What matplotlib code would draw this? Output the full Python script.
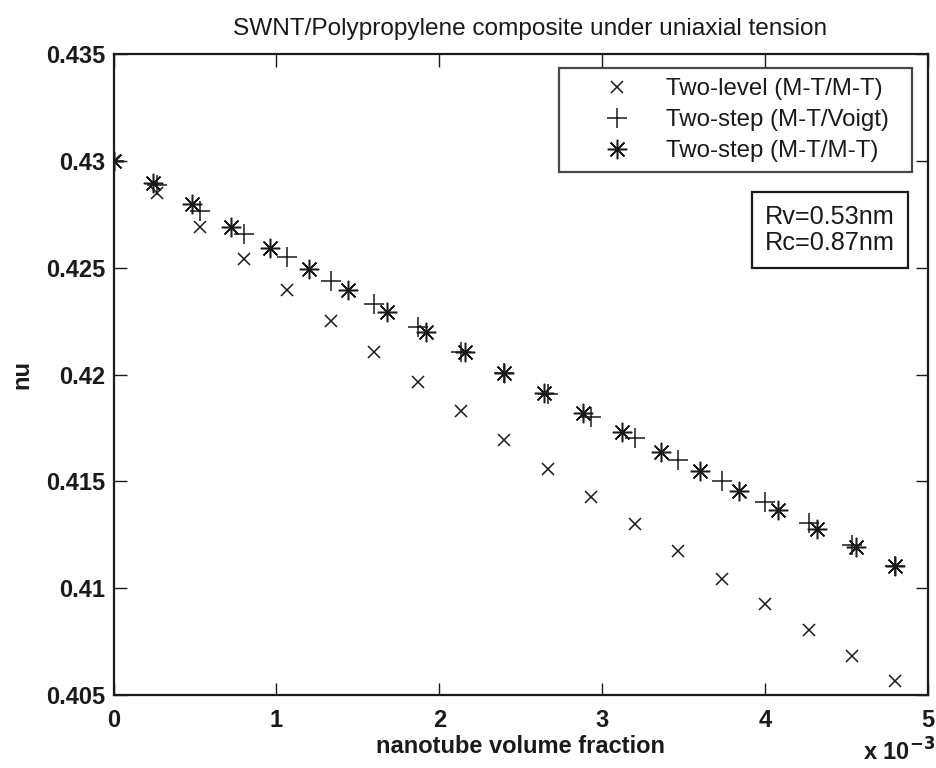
import matplotlib
matplotlib.use("Agg")
import matplotlib.pyplot as plt
from matplotlib.ticker import FuncFormatter

plt.rcParams['font.family'] = ['Liberation Sans', 'DejaVu Sans']

# x values (volume fraction)
x_level = [0.0, 0.267e-3, 0.533e-3, 0.800e-3, 1.067e-3, 1.333e-3, 1.600e-3, 1.867e-3,
           2.133e-3, 2.400e-3, 2.667e-3, 2.933e-3, 3.200e-3, 3.467e-3, 3.733e-3,
           4.000e-3, 4.267e-3, 4.533e-3, 4.800e-3]
nu_level = [0.4300, 0.42848, 0.42692, 0.42540, 0.42395, 0.42250, 0.42106, 0.41966,
            0.41830, 0.41693, 0.41560, 0.41427, 0.41300, 0.41173, 0.41045,
            0.40924, 0.40803, 0.40682, 0.40565]

x_voigt = x_level
nu_voigt = [0.4300, 0.42887, 0.42766, 0.42657, 0.42548, 0.42439, 0.42330, 0.42220,
            0.42106, 0.42008, 0.41907, 0.41802, 0.41701, 0.41599, 0.41501,
            0.41404, 0.41306, 0.41200, 0.41104]

x_mtmt = [0.0, 0.24e-3, 0.48e-3, 0.72e-3, 0.96e-3, 1.20e-3, 1.44e-3, 1.68e-3, 1.92e-3,
          2.16e-3, 2.40e-3, 2.64e-3, 2.88e-3, 3.12e-3, 3.36e-3, 3.60e-3, 3.84e-3,
          4.08e-3, 4.32e-3, 4.56e-3, 4.80e-3]
nu_mtmt = [0.4300, 0.42897, 0.42796, 0.42691, 0.42592, 0.42492, 0.42395, 0.42294,
           0.42200, 0.42106, 0.42008, 0.41914, 0.41821, 0.41730, 0.41638, 0.41548,
           0.41456, 0.41365, 0.41278, 0.41193, 0.41104]

labels = ['Two-level (M-T/M-T)', 'Two-step (M-T/Voigt)', 'Two-step (M-T/M-T)']
xticks = [0, 1e-3, 2e-3, 3e-3, 4e-3, 5e-3]
yticks = [0.405, 0.41, 0.415, 0.42, 0.425, 0.43, 0.435]

fig = plt.figure(figsize=(9.36, 7.68), dpi=100)
ax = fig.add_axes([113.5/936, 73/768, 814.5/936, 641/768])

col = '#1a1a1a'
ax.plot(x_level, nu_level, linestyle='none', marker='x', markersize=9, markeredgewidth=1.1,
        color=col, label=labels[0])
ax.plot(x_voigt, nu_voigt, linestyle='none', marker='+', markersize=15, markeredgewidth=1.1,
        color=col, label=labels[1])
ax.plot(x_mtmt, nu_mtmt, linestyle='none', marker=(8, 2, 0), markersize=14, markeredgewidth=1.1,
        color=col, label=labels[2])

ax.set_xlim(0, 5e-3)
ax.set_ylim(0.405, 0.435)
ax.set_xticks(xticks)
ax.set_yticks(yticks)
ax.xaxis.set_major_formatter(FuncFormatter(lambda v, p: '%g' % round(v * 1e3, 6)))
ax.yaxis.set_major_formatter(FuncFormatter(lambda v, p: '%g' % round(v, 6)))
ax.tick_params(direction='in', length=9, width=1.0, top=True, right=True,
               labelsize=17, colors=col)
ax.tick_params(axis='x', pad=10)
ax.tick_params(axis='y', pad=6)
for lab in ax.get_xticklabels() + ax.get_yticklabels():
    lab.set_fontweight('bold')
for s in ax.spines.values():
    s.set_linewidth(1.6)
    s.set_color(col)

ax.set_title('SWNT/Polypropylene composite under uniaxial tension', fontsize=17.6,
             pad=14, color=col, x=(530 - 113.5) / 814.5)
ax.set_xlabel('nanotube volume fraction', fontsize=17, fontweight='bold', labelpad=2.5, color=col)
ax.set_ylabel('nu', fontsize=17, fontweight='bold', labelpad=9, color=col)

fig.text(863/936, 1 - 752/768, r'x 10$^{\mathbf{-3}}$', fontsize=17, fontweight='bold',
         ha='left', va='center', color=col)

x0 = (559 - 113.5) / 814.5
x1 = (912 - 113.5) / 814.5
y1 = (695 - 68) / 641
y0 = (695 - 167) / 641
leg = ax.legend(loc='upper left', bbox_to_anchor=(x0, y0, x1 - x0, y1 - y0), mode='expand',
                fontsize=17.3, frameon=True, fancybox=False, borderaxespad=0,
                borderpad=0.42, handlelength=4.0, handletextpad=0.02, labelspacing=0.38,
                edgecolor=col)
leg.get_frame().set_linewidth(1.6)
for t in leg.get_texts():
    t.set_color(col)

ax.text((765 - 113.5) / 814.5, (695 - 205) / 641, 'Rv=0.53nm\nRc=0.87nm', transform=ax.transAxes,
        fontsize=18.2, ha='left', va='top', linespacing=1.12, color=col,
        bbox=dict(boxstyle='square,pad=0.5', facecolor='white', edgecolor=col, linewidth=1.6))

fig.savefig('out.png', dpi=100)
